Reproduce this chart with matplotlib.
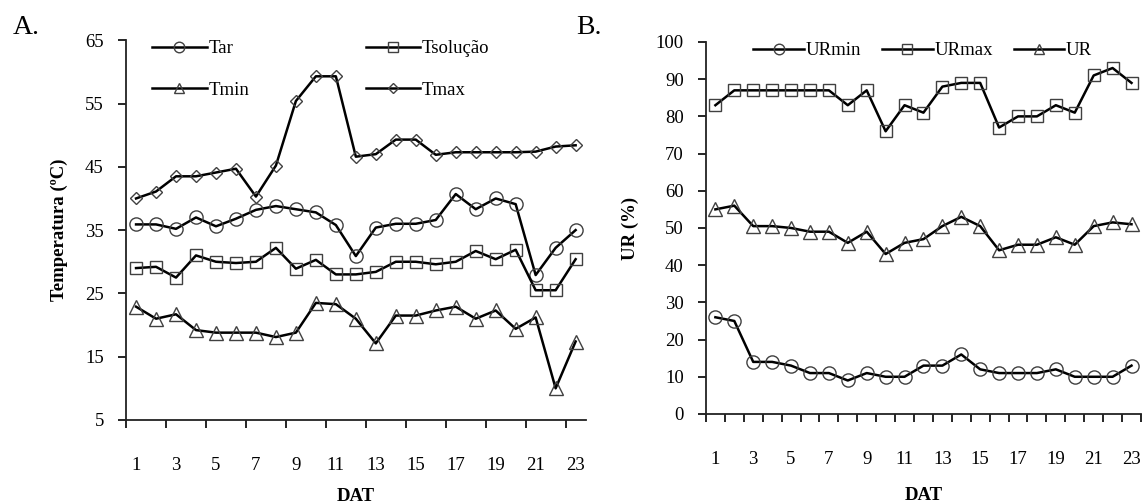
import matplotlib
matplotlib.use("Agg")
import matplotlib.pyplot as plt
from matplotlib.ticker import FixedLocator

plt.rcParams['font.family'] = ['Liberation Serif', 'DejaVu Serif']

dat = list(range(1, 24))
odd_labels = [str(d) for d in dat if d % 2 == 1]

# painel A - temperaturas (ºC)
t_ar = [35.9, 35.9, 35.2, 37.0, 35.6, 36.8, 38.2, 38.8, 38.3, 37.8, 35.8, 30.9,
        35.4, 36.0, 36.0, 36.6, 40.7, 38.3, 40.0, 39.1, 27.9, 32.2, 35.0]
t_sol = [29.0, 29.2, 27.5, 31.0, 30.0, 29.8, 30.0, 32.2, 28.9, 30.3, 28.0, 28.0,
         28.4, 30.0, 30.0, 29.6, 30.0, 31.7, 30.4, 31.9, 25.5, 25.5, 30.4]
t_min = [22.9, 21.0, 21.7, 19.2, 18.8, 18.8, 18.8, 18.1, 18.8, 23.5, 23.3, 21.0,
         17.1, 21.5, 21.5, 22.3, 22.9, 21.0, 22.3, 19.4, 21.2, 10.0, 17.4]
t_max = [40.0, 41.1, 43.5, 43.5, 44.1, 44.7, 40.3, 45.2, 55.4, 59.3, 59.3, 46.6,
         47.0, 49.3, 49.3, 46.9, 47.3, 47.3, 47.3, 47.3, 47.4, 48.2, 48.4]

# painel B - umidade relativa (%)
ur_min = [26, 25, 14, 14, 13, 11, 11, 9, 11, 10, 10, 13,
          13, 16, 12, 11, 11, 11, 12, 10, 10, 10, 13]
ur_max = [83, 87, 87, 87, 87, 87, 87, 83, 87, 76, 83, 81,
          88, 89, 89, 77, 80, 80, 83, 81, 91, 93, 89]
ur = [55, 56, 50.5, 50.5, 50, 49, 49, 46, 49, 43, 46, 47,
      50.5, 53, 50.5, 44, 45.5, 45.5, 47.5, 45.5, 50.5, 51.5, 51]

FS = 13.5
edge = '#404040'

fig = plt.figure(figsize=(11.46, 5.01), dpi=100)
ax1 = fig.add_axes([0.110, 0.1617, 0.401, 0.758])
ax2 = fig.add_axes([0.616, 0.1737, 0.3796, 0.7425])


def serie(ax, y, marker, ms, label):
    return ax.plot(dat, y, color='black', lw=1.8, marker=marker, ms=ms,
                   mfc='none', mec=edge, mew=1.0, label=label, clip_on=False,
                   zorder=3)[0]


def estilo(ax, major_x, pad_dat):
    for s in ['top', 'right']:
        ax.spines[s].set_visible(False)
    for s in ['left', 'bottom']:
        ax.spines[s].set_linewidth(1.3)
        ax.spines[s].set_color('#222222')
    ax.set_xlim(0.5, 23.5)
    ax.xaxis.set_major_locator(FixedLocator(major_x))
    ax.xaxis.set_minor_locator(FixedLocator([d for d in dat if d % 2 == 1]))
    ax.set_xticklabels([], minor=False)
    ax.set_xticklabels(odd_labels, minor=True)
    ax.tick_params(axis='x', which='major', direction='out', length=6, width=1.2)
    ax.tick_params(axis='x', which='minor', length=0, pad=27, labelsize=FS)
    ax.tick_params(axis='y', direction='out', length=6, width=1.2, pad=10, labelsize=FS)
    ax.set_xlabel('DAT', fontsize=FS, fontweight='bold', labelpad=pad_dat)


l_ar = serie(ax1, t_ar, 'o', 9.5, 'Tar')
l_sol = serie(ax1, t_sol, 's', 9, 'Tsolução')
l_min = serie(ax1, t_min, '^', 9.5, 'Tmin')
l_max = serie(ax1, t_max, 'D', 6.5, 'Tmax')
estilo(ax1, [0.5 + 2 * i for i in range(12)], 9.5)
ax1.set_ylim(5, 65)
ax1.set_yticks(range(5, 66, 10))
ax1.set_ylabel('Temperatura (ºC)', fontsize=FS, fontweight='bold', labelpad=12)
# legenda preenchida por coluna: Tar/Tmin na 1a, Tsolução/Tmax na 2a
ax1.legend([l_ar, l_min, l_sol, l_max], ['Tar', 'Tmin', 'Tsolução', 'Tmax'],
           loc='upper left', bbox_to_anchor=(0.02, 1.045), ncol=2, frameon=False,
           fontsize=FS, handlelength=2.9, handletextpad=0.1, columnspacing=6.2,
           labelspacing=1.3, markerscale=0.8)

serie(ax2, ur_min, 'o', 9.5, 'URmin')
serie(ax2, ur_max, 's', 9, 'URmax')
serie(ax2, ur, '^', 9.5, 'UR')
estilo(ax2, [0.5 + i for i in range(24)], 13)
ax2.set_ylim(0, 100)
ax2.set_yticks(range(0, 101, 10))
ax2.set_ylabel('UR (%)', fontsize=FS, fontweight='bold', labelpad=12)
ax2.legend(loc='upper left', bbox_to_anchor=(0.07, 1.045), ncol=3, frameon=False,
           fontsize=FS, handlelength=2.7, handletextpad=0.1, columnspacing=1.1,
           markerscale=0.8)

fig.text(0.011, 0.945, 'A.', fontsize=20, va='center', ha='left')
fig.text(0.503, 0.945, 'B.', fontsize=20, va='center', ha='left')

fig.savefig('out.png', dpi=100)
